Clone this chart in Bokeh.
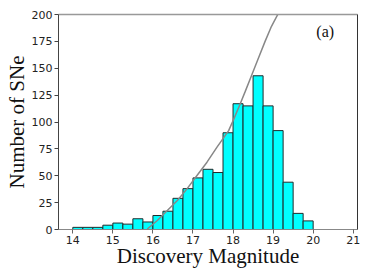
from bokeh.plotting import figure
from bokeh.models import Range1d, FixedTicker, LinearAxis, Label
from bokeh.embed import file_html
from bokeh.resources import INLINE

# histogram of discovery magnitudes (bin width 0.25 mag)
bin_left = [14.0, 14.25, 14.5, 14.75, 15.0, 15.25, 15.5, 15.75,
            16.0, 16.25, 16.5, 16.75, 17.0, 17.25, 17.5, 17.75,
            18.0, 18.25, 18.5, 18.75, 19.0, 19.25, 19.5, 19.75]
bin_right = [14.25, 14.5, 14.75, 15.0, 15.25, 15.5, 15.75, 16.0,
             16.25, 16.5, 16.75, 17.0, 17.25, 17.5, 17.75, 18.0,
             18.25, 18.5, 18.75, 19.0, 19.25, 19.5, 19.75, 20.0]
counts = [2, 2, 2, 4, 6, 5, 10, 7,
          13, 17, 29, 38, 48, 56, 53, 90,
          117, 115, 143, 115, 92, 44, 15, 8]

# grey model curve
curve_mag = [15.86, 16.11, 16.36, 16.61, 16.85, 17.10, 17.35, 17.60,
             17.89, 18.01, 18.18, 18.30, 18.47, 18.63, 18.80, 18.96, 19.13, 19.18]
curve_n = [0.5, 8.4, 17.7, 27.0, 37.8, 50.2, 62.6, 76.6,
           92.0, 102.0, 117.0, 128.0, 144.0, 159.0, 175.0, 189.0, 201.0, 205.0]

x_ticks = [14, 15, 16, 17, 18, 19, 20, 21]
y_ticks = [0, 25, 50, 75, 100, 125, 150, 175, 200]

x_label = "Discovery Magnitude"
y_label = "Number of SNe"
panel_tag = "(a)"

p = figure(width=369, height=277, output_backend="svg", toolbar_location=None,
           x_range=Range1d(13.643, 21.107), y_range=Range1d(0, 200),
           min_border_left=58, min_border_right=12, min_border_top=14,
           min_border_bottom=48,
           x_axis_label=x_label, y_axis_label=y_label)
p.outline_line_color = None
p.grid.visible = False
p.background_fill_color = "white"
p.border_fill_color = "white"

p.quad(left=bin_left, right=bin_right, bottom=0, top=counts,
       fill_color="#00ffff", line_color="#1f2b2b", line_width=1)
p.line(curve_mag, curve_n, line_color="#888888", line_width=1.5)

xa = p.xaxis[0]
ya = p.yaxis[0]
xa.ticker = FixedTicker(ticks=x_ticks)
ya.ticker = FixedTicker(ticks=y_ticks)
for ax in (xa, ya):
    ax.major_tick_out = 4
    ax.major_tick_in = 0
    ax.minor_tick_out = 0
    ax.minor_tick_in = 0
    ax.major_label_text_font = "DejaVu Sans"
    ax.major_label_text_font_size = "11px"
    ax.major_label_text_color = "#222222"
    ax.axis_label_text_font = "Liberation Serif"
    ax.axis_label_text_font_size = "21px"
    ax.axis_label_text_font_style = "normal"
    ax.axis_label_text_color = "#111111"
    ax.major_label_standoff = 2
xa.axis_line_color = "#888888"
xa.major_tick_line_color = "#666666"
ya.axis_line_color = "#444444"
ya.major_tick_line_color = "#444444"
xa.axis_label_standoff = -3
ya.axis_label_standoff = 0

top_axis = LinearAxis(ticker=FixedTicker(ticks=[]), axis_line_color="#999999",
                      axis_line_width=1.3, major_tick_out=0, major_tick_in=0,
                      minor_tick_out=0, minor_tick_in=0, major_label_standoff=0)
right_axis = LinearAxis(ticker=FixedTicker(ticks=[]), axis_line_color="#333333",
                        major_tick_out=0, major_tick_in=0,
                        minor_tick_out=0, minor_tick_in=0, major_label_standoff=0)
p.add_layout(top_axis, "above")
p.add_layout(right_axis, "right")

p.add_layout(Label(x=20.08, y=184, text=panel_tag, text_font="Liberation Serif",
                   text_font_size="16px", text_align="left",
                   text_baseline="middle", text_color="#111111"))

open("out.html", "w").write(file_html(p, INLINE))
